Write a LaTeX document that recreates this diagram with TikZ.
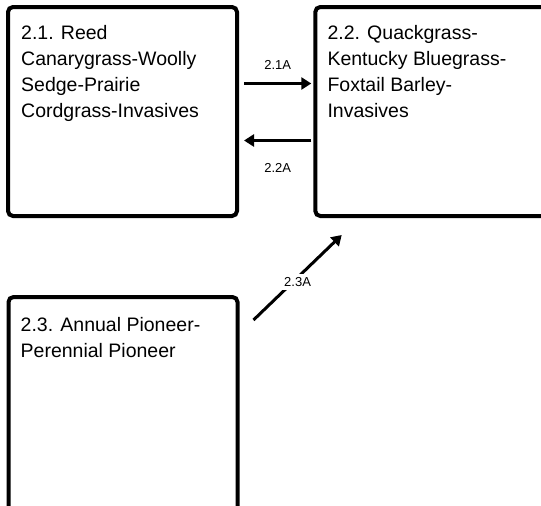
\documentclass[tikz,border=0pt]{standalone}
\usepackage{fontspec}
\setmainfont{Liberation Sans}
\usetikzlibrary{arrows.meta}
\begin{document}
\begin{tikzpicture}[x=1pt, y=-1pt, every node/.style={font=\fontsize{19.5}{26}\selectfont}]
  \tikzstyle{box}=[draw,line width=4pt,rounded corners=5pt,minimum width=229pt,inner sep=0pt]
  \tikzstyle{boxtxt}=[anchor=north west,align=left,inner sep=0pt]
  \tikzstyle{flow}=[line width=3pt,-{Triangle[length=10pt,width=12pt]}]
  \tikzstyle{lbl}=[font=\fontsize{13}{15}\selectfont,inner sep=0pt]
  \useasboundingbox (0,0) rectangle (541,506);
  \clip (0,0) rectangle (541,506);
  % States
  \node[box,minimum height=209pt] (b21) at (122.5,111.5) {};
  \node[box,minimum height=209pt,minimum width=240pt] (b22) at (435.3,111.5) {};
  \node[box,minimum height=260pt] (b23) at (123,427) {};
  \node[boxtxt] (t21) at ([shift={(15,20)}]b21.north west) {2.1. Reed\\Canarygrass-Woolly\\Sedge-Prairie\\Cordgrass-Invasives};
  \node[boxtxt] (t22) at ([shift={(14,20)}]b22.north west) {2.2. Quackgrass-\\Kentucky Bluegrass-\\Foxtail Barley-\\Invasives};
  \node[boxtxt] (t23) at ([shift={(14,22)}]b23.north west) {2.3. Annual Pioneer-\\Perennial Pioneer};
  % Transitions
  \draw[flow] ([shift={(5,-28)}]b21.east) -- ([shift={(-2,-28)}]b22.west) node[lbl,midway,above=12.5pt] {2.1A};
  \draw[flow] ([shift={(-2,29)}]b22.west) -- ([shift={(5,29)}]b21.east) node[lbl,midway,below=21.5pt] {2.2A};
  \draw[flow] ([shift={(14,25)}]b23.north east) -- ([shift={(28.4,17)}]b22.south west) node[lbl,midway,yshift=-4.5pt,fill=white,inner sep=3pt] {2.3A};
\end{tikzpicture}
\end{document}
